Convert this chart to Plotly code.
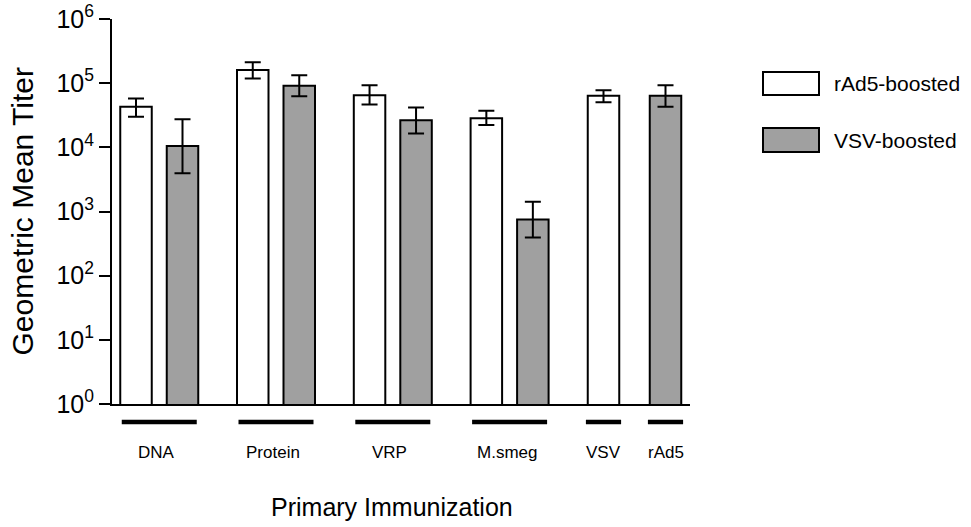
import plotly.graph_objects as go

# ---------------- data ----------------
groups = ["DNA", "Protein", "VRP", "M.smeg", "VSV", "rAd5"]
series_names = ["rAd5-boosted", "VSV-boosted"]

rad5_gmt   = [42800, 161000, 65000, 28500, 63400, None]
rad5_upper = [57800, 212000, 93000, 37000, 77800, None]
rad5_lower = [29900, 118000, 46600, 22200, 50600, None]

vsv_gmt   = [10500, 90800, 26500, 753, None, 63400]
vsv_upper = [27500, 133000, 41900, 1417, None, 93000]
vsv_lower = [3960, 62800, 16500, 395, None, 42800]

y_tick_vals = [1, 10, 100, 1000, 10000, 100000, 1000000]
y_tick_text = ["10<sup>%d</sup>" % i for i in range(7)]

# ---------------- layout constants ----------------
FONT = "Liberation Sans, Arial, sans-serif"
L, R, T, B = 112, 281, 19, 123
W, H = 971, 527
PLOT_W = W - L - R
PLOT_H = H - T - B

group_centers = [47.25, 164.0, 280.8, 397.6, 491.5, 553.5]
pair_offset = 23.25
bar_width = 31.5
underline_half = [37.5, 37.5, 37.5, 37.5, 17.6, 17.6]

white_x, gray_x = [], []
for i, g in enumerate(groups):
    paired = rad5_gmt[i] is not None and vsv_gmt[i] is not None
    white_x.append(group_centers[i] - pair_offset if paired else group_centers[i])
    gray_x.append(group_centers[i] + pair_offset if paired else group_centers[i])


def keep(xs, vals, up, lo):
    X, Y, P, M = [], [], [], []
    for x, v, u, l in zip(xs, vals, up, lo):
        if v is None:
            continue
        X.append(x); Y.append(v); P.append(u - v); M.append(v - l)
    return X, Y, P, M


fig = go.Figure()
for xs, vals, up, lo, fill, name in [
    (white_x, rad5_gmt, rad5_upper, rad5_lower, "#ffffff", series_names[0]),
    (gray_x, vsv_gmt, vsv_upper, vsv_lower, "#a0a0a0", series_names[1]),
]:
    X, Y, P, M = keep(xs, vals, up, lo)
    fig.add_trace(go.Bar(
        x=X, y=Y, width=bar_width, name=name, showlegend=False,
        marker=dict(color=fill, line=dict(color="black", width=2)),
        error_y=dict(type="data", array=P, arrayminus=M, symmetric=False,
                     color="black", thickness=2, width=8),
    ))

shapes = []
annotations = []
ul_y = -(422 - (H - B)) / PLOT_H
for i, g in enumerate(groups):
    shapes.append(dict(type="line", xref="x", yref="paper",
                       x0=group_centers[i] - underline_half[i],
                       x1=group_centers[i] + underline_half[i],
                       y0=ul_y, y1=ul_y, line=dict(color="black", width=4.5)))
    annotations.append(dict(x=group_centers[i] - (3 if i < 4 else 0), y=0, xref="x", yref="paper",
                            text=g, showarrow=False, yanchor="middle",
                            yshift=-48, font=dict(family=FONT, size=17, color="black")))


def px_x(p):
    return (p - L) / PLOT_W


def px_y(p):
    return (H - B - p) / PLOT_H


legend_boxes = [(72, 95, "#ffffff"), (128, 152, "#a0a0a0")]
for (y0, y1, fill), name in zip(legend_boxes, series_names):
    shapes.append(dict(type="rect", xref="paper", yref="paper",
                       x0=px_x(763), x1=px_x(819), y0=px_y(y1), y1=px_y(y0),
                       fillcolor=fill, line=dict(color="black", width=2)))
    annotations.append(dict(x=px_x(832), y=px_y((y0 + y1) / 2), xref="paper", yref="paper",
                            text=name, showarrow=False, xanchor="left", yanchor="middle",
                            font=dict(family=FONT, size=21, color="black")))

annotations.append(dict(x=px_x(22), y=0.5, xref="paper", yref="paper",
                        text="Geometric Mean Titer", textangle=-90, showarrow=False,
                        xanchor="center", yanchor="middle",
                        font=dict(family=FONT, size=30, color="black")))
annotations.append(dict(x=px_x(392), y=px_y(507), xref="paper", yref="paper",
                        text="Primary Immunization", showarrow=False,
                        xanchor="center", yanchor="middle",
                        font=dict(family=FONT, size=25, color="black")))

fig.update_layout(
    width=W, height=H,
    margin=dict(l=L, r=R, t=T, b=B, pad=0, autoexpand=False),
    paper_bgcolor="white", plot_bgcolor="white",
    barmode="overlay",
    shapes=shapes, annotations=annotations,
    xaxis=dict(range=[0, PLOT_W], showgrid=False, zeroline=False, automargin=False,
               showline=True, linecolor="black", linewidth=2,
               showticklabels=False, ticks="", fixedrange=True),
    yaxis=dict(type="log", range=[0, 6], showgrid=False, zeroline=False, automargin=False,
               showline=True, linecolor="black", linewidth=2,
               tickvals=y_tick_vals, ticktext=y_tick_text,
               ticks="outside", ticklen=11, tickwidth=2, tickcolor="black",
               tickfont=dict(family=FONT, size=25, color="black")),
)

fig.write_html("out.html")
